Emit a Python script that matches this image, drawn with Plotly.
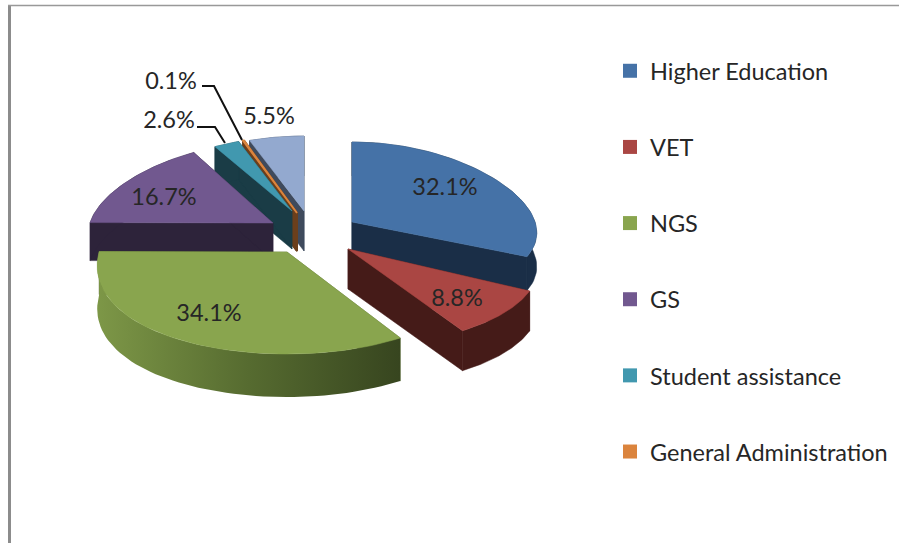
import math
import plotly.graph_objects as go

# Data
categories = ["Higher Education", "VET", "NGS", "GS", "Student assistance", "General Administration", "Other"]
shares = [32.1, 8.8, 34.1, 16.7, 2.6, 0.1, 5.5]
in_legend = [True, True, True, True, True, True, False]

# Styling: face and wall colours
face_colors = ["#4572a7", "#aa4643", "#89a54e", "#71588f", "#4198af", "#db843d", "#93a9cf"]
wall_colors = ["#1a2e47", "#451b18", "#566b30", "#2d233a", "#1a3c46", "#6b3f1c", "#3f4a5c"]

# Layout of the exploded, tilted pie (pixels)
apex_x = [352, 348, 287, 273, 292, 297, 304]
apex_y = [222, 249, 252, 223, 211, 213, 211]
radius_x = [183, 190, 188, 183, 178, 180, 185]
radius_y = [80, 97, 102, 81, 74, 77, 75]
depth = [34, 40, 43, 38, 38, 38, 40]
perspective = 0.14
paint_order = [6, 5, 4, 3, 0, 1, 2]

label_x = [445, 457, 209, 164, 169, 171, 269]
label_y = [189, 300, 315, 199, 122, 83, 118]
leader_admin_x, leader_admin_y = [202, 214, 242], [86, 86, 140]
leader_student_x, leader_student_y = [197, 215, 225], [127, 127, 143]

W, H = 899, 543
FONT = "Lato"
TEXT = "#262626"

# slice angles come from the shares, clockwise from twelve o'clock
bounds = [0.0]
for s in shares:
    bounds.append(bounds[-1] + s / sum(shares) * 360.0)


def rim(i, a0, a1, n=60):
    xs, ys = [], []
    for k in range(n + 1):
        t = math.radians(a0 + (a1 - a0) * k / n)
        xs.append(apex_x[i] + radius_x[i] * math.sin(t) * (1 - perspective * math.cos(t)))
        ys.append(apex_y[i] - radius_y[i] * math.cos(t))
    return xs, ys


fig = go.Figure()


def poly(xs, ys, color, width=0, **extra):
    fig.add_trace(go.Scatter(x=xs, y=ys, mode="lines", fill="toself", fillcolor=color,
                             line=dict(color=color, width=width), hoverinfo="skip",
                             showlegend=False, **extra))


for i in paint_order:
    a0, a1 = bounds[i], bounds[i + 1]
    xs, ys = rim(i, a0, a1)
    d = depth[i]
    ax, ay = apex_x[i], apex_y[i]
    thin = 2 if shares[i] < 1 else 0
    # cut faces
    for ex, ey in ((xs[0], ys[0]), (xs[-1], ys[-1])):
        poly([ax, ex, ex, ax, ax], [ay, ey, ey + d, ay + d, ay], wall_colors[i], thin or 0.5)
    # outer wall
    wx = xs + xs[::-1] + [xs[0]]
    wy = ys + [y + d for y in ys[::-1]] + [ys[0]]
    if categories[i] == "NGS":
        fig.add_trace(go.Scatter(x=wx, y=wy, mode="lines", fill="toself",
                                 fillgradient=dict(type="horizontal",
                                                   colorscale=[[0, "#7d9747"], [0.5, "#566b30"], [1, "#37451f"]]),
                                 line=dict(width=0), hoverinfo="skip", showlegend=False))
    else:
        poly(wx, wy, wall_colors[i], 0.5)
    # top face
    poly([ax] + xs + [ax], [ay] + ys + [ay], face_colors[i], thin or 0.5)

# leader lines
for lx, ly in ((leader_admin_x, leader_admin_y), (leader_student_x, leader_student_y)):
    fig.add_trace(go.Scatter(x=lx, y=ly, mode="lines", line=dict(color="#111111", width=2),
                             hoverinfo="skip", showlegend=False))

# percentage labels
fig.add_trace(go.Scatter(x=label_x, y=label_y, mode="text",
                         text=[f"{s:.1f}%" for s in shares],
                         textposition="middle center",
                         textfont=dict(family=FONT, size=23.5, color=TEXT),
                         hoverinfo="skip", showlegend=False))

# legend entries
for name, color, show in zip(categories, face_colors, in_legend):
    if show:
        fig.add_trace(go.Scatter(x=[None], y=[None], mode="markers", name=name, legendgroup=name,
                                 marker=dict(symbol="square", size=14, color=color)))

fig.update_layout(
    width=W, height=H, autosize=False,
    margin=dict(l=0, r=0, t=0, b=0),
    paper_bgcolor="white", plot_bgcolor="white",
    xaxis=dict(range=[0, W], visible=False, fixedrange=True),
    yaxis=dict(range=[H, 0], visible=False, fixedrange=True),
    legend=dict(x=610 / W, y=1 - 49 / H, xanchor="left", yanchor="top",
                font=dict(family=FONT, size=23.5, color=TEXT),
                traceorder="grouped", tracegroupgap=42.6, itemclick=False, itemdoubleclick=False),
    shapes=[
        dict(type="line", xref="x", yref="y", x0=9.5, x1=9.5, y0=5, y1=H, line=dict(color="#8c8c8c", width=3)),
        dict(type="line", xref="x", yref="y", x0=8, x1=W, y0=5.5, y1=5.5, line=dict(color="#999999", width=1.5)),
    ],
)

fig.write_html("out.html", config={"displayModeBar": False},
               post_script="document.body.style.margin='0';document.documentElement.style.overflow='hidden';")
